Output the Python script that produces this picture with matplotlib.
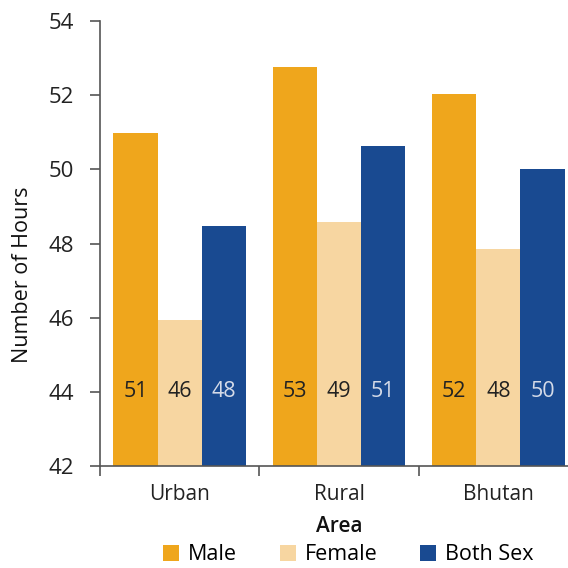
import numpy as np
import matplotlib
matplotlib.use("Agg")
import matplotlib.pyplot as plt
from matplotlib.patches import Patch

plt.rcParams['font.family'] = ['Open Sans', 'DejaVu Sans']

areas = ["Urban", "Rural", "Bhutan"]
series = ["Male", "Female", "Both Sex"]
male = [50.97, 52.76, 52.04]
female = [45.93, 48.57, 47.84]
both = [48.46, 50.64, 50.02]
labels_male = ["51", "53", "52"]
labels_female = ["46", "49", "48"]
labels_both = ["48", "51", "50"]

COLORS = ["#EFA61C", "#F7D6A1", "#194A91"]
TEXT_COLORS = ["#222222", "#222222", "#D5DBE8"]

fig = plt.figure(figsize=(5.68, 5.68), dpi=100)
ax = fig.add_axes([100 / 568, 102 / 568, 478 / 568, 445 / 568])

x = np.arange(len(areas))
w = 0.277
values = [male, female, both]
texts = [labels_male, labels_female, labels_both]
for i, (vals, lab) in enumerate(zip(values, texts)):
    pos = x + (i - 1) * w
    ax.bar(pos, [v - 42 for v in vals], bottom=42, width=w, color=COLORS[i],
           edgecolor="none")
    for p, t in zip(pos, lab):
        ax.text(p, 44, t, ha="center", va="center", fontsize=15.5,
                color=TEXT_COLORS[i])

ax.set_xlim(-0.5, 2.5)
ax.set_ylim(42, 54)
ax.set_yticks(np.arange(42, 55, 2))
ax.tick_params(axis="y", length=7, width=1.2, color="#555555", pad=12,
               labelsize=16, labelcolor="#222222")

ax.set_xticks(x)
ax.set_xticklabels(areas)
ax.tick_params(axis="x", which="major", length=0, pad=13, labelsize=15,
               labelcolor="#222222")
ax.set_xticks([-0.5, 0.5, 1.5, 2.5], minor=True)
ax.tick_params(axis="x", which="minor", length=7, width=1.2, color="#555555")

for s in ["top", "right"]:
    ax.spines[s].set_visible(False)
for s in ["left", "bottom"]:
    ax.spines[s].set_color("#555555")
    ax.spines[s].set_linewidth(1.2)

ax.set_xlabel("Area", fontsize=15, labelpad=8, color="#111111", fontweight="semibold")
ax.set_ylabel("Number of Hours", fontsize=15.5, color="#111111")
ax.yaxis.set_label_coords(-0.14, 0.43)

handles = [Patch(facecolor=c, edgecolor="none") for c in COLORS]
fig.legend(handles, series, loc="center", bbox_to_anchor=(0.613, 0.023),
           ncol=3, frameon=False, fontsize=15.5, handlelength=0.75,
           handleheight=0.75, handletextpad=0.4, columnspacing=2.0,
           borderpad=0.1)

fig.savefig("out.png", dpi=100)
